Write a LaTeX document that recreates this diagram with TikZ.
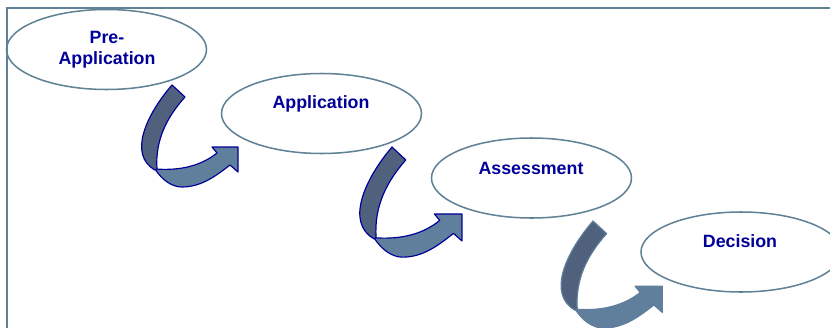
\documentclass[tikz,border=0pt]{standalone}
\usepackage{fontspec}
\setmainfont{Liberation Sans}
\usetikzlibrary{shapes.geometric,positioning}

\definecolor{rim}{RGB}{96,130,150}
\definecolor{navy}{RGB}{0,0,153}
\definecolor{banddark}{RGB}{79,97,124}
\definecolor{bandlight}{RGB}{96,127,156}

\tikzset{
  stage/.style={ellipse, draw=rim, line width=1.3pt, minimum width=6cm, minimum height=2.4cm, inner sep=0pt},
  stagetext/.style={text=navy, font=\fontsize{15.2}{18}\selectfont\bfseries, align=center},
  bandline/.style={draw=navy, line width=1pt, line join=round},
  darkband/.style={bandline, fill=banddark},
  lightband/.style={bandline, fill=bandlight},
  pics/bentarrow/.style={code={
    % lower part of the ribbon with its head
    \path[lightband] (-17,84) .. controls (-10,95) and (0,102) .. (10,102)
      .. controls (30,102) and (45,90) .. (58,80) -- (66,87) -- (66,62) -- (40,62) -- (45,68)
      .. controls (30,80) and (10,86) .. (-17,84) -- cycle;
    % upper part, coming down
    \path[darkband] (0,0) -- (13,12) .. controls (-5,32) and (-17,55) .. (-15,84) -- (-17,85)
      .. controls (-44,70) and (-26,30) .. (0,0) -- cycle;
  }},
}

\begin{document}
\begin{tikzpicture}[x=0.03cm, y=-0.03cm]
  \useasboundingbox (0,0) rectangle (830,327);
  \clip (0,0) rectangle (830,327);
  \fill[white] (0,0) rectangle (830,327);

  % frame
  \draw[rim, line width=1.5pt] (7,345) -- (7,8) -- (845,8);

  % stages
  \node[stage] (pre) at (106.5,49.5) {};
  \node[stage] (app) at (321.5,113.5) {};
  \node[stage] (ass) at (531.5,178) {};
  \node[stage] (dec) at (741,252) {};

  \node[stagetext] (pretext) at (107,50) {Pre-\\Application};
  \node[stagetext] (apptext) at (321,104) {Application};
  \node[stagetext] (asstext) at (531,168) {Assessment};
  \node[stagetext] (dectext) at (740,241) {Decision};

  % bent arrows between the stages
  \pic at (172,85) {bentarrow};
  \pic[xscale=1.06, yscale=1.08] at (392,147) {bentarrow};
  \pic[xscale=1.05, yscale=1.05, bandline/.style={draw=bandlight, line width=1pt, line join=round}] at (593,221) {bentarrow};
\end{tikzpicture}
\end{document}
